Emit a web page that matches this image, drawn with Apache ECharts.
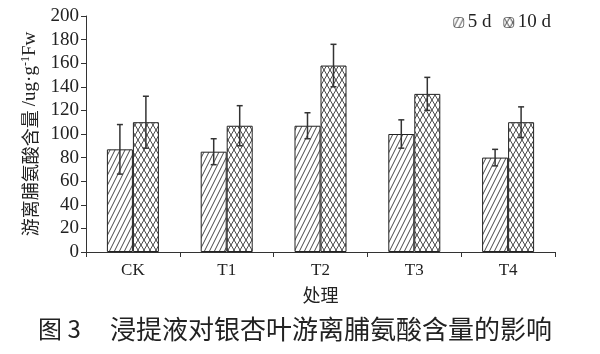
<!DOCTYPE html>
<html>
<head>
<meta charset="utf-8">
<script src="https://cdn.jsdelivr.net/npm/echarts@6/dist/echarts.min.js"></script>
<style>
html, body { margin: 0; padding: 0; background: #fff; }
#main { width: 600px; height: 354px; }
</style>
</head>
<body>
<div id="main"></div>
<script>
// 处理组与数据
var categories = ['CK', 'T1', 'T2', 'T3', 'T4'];
var seriesNames = ['5 d', '10 d'];
var val5d = [87, 85, 107, 100, 80];
var val10d = [110, 107, 158, 134, 110];
var err5d = [21, 11, 11, 12, 7];
var err10d = [22, 17, 18, 14, 13];

var serif = '"Liberation Serif", "Times New Roman", serif';
var cjk = '"Noto Sans CJK SC", sans-serif';
var barW = 26;

// 斜线填充
function hatchPattern() {
	var c = document.createElement('canvas');
	c.width = 5; c.height = 10;
	var ctx = c.getContext('2d');
	ctx.fillStyle = '#fff';
	ctx.fillRect(0, 0, 5, 10);
	ctx.strokeStyle = '#333';
	ctx.lineWidth = 0.9;
	for (var k = -1; k <= 1; k++) {
		ctx.beginPath();
		ctx.moveTo(k * 5, 10);
		ctx.lineTo(k * 5 + 5, 0);
		ctx.stroke();
	}
	return c;
}
// 网格填充
function crossPattern() {
	var c = document.createElement('canvas');
	c.width = 6; c.height = 10;
	var ctx = c.getContext('2d');
	ctx.fillStyle = '#fff';
	ctx.fillRect(0, 0, 6, 10);
	ctx.strokeStyle = '#333';
	ctx.lineWidth = 0.9;
	for (var k = -1; k <= 1; k++) {
		ctx.beginPath();
		ctx.moveTo(k * 6, 10);
		ctx.lineTo(k * 6 + 6, 0);
		ctx.stroke();
		ctx.beginPath();
		ctx.moveTo(k * 6, 0);
		ctx.lineTo(k * 6 + 6, 10);
		ctx.stroke();
	}
	return c;
}

function errData(vals, errs) {
	return vals.map(function (v, i) { return [i, v - errs[i], v + errs[i]]; });
}

function errRender(offset) {
	return function (params, api) {
		var lo = api.coord([api.value(0), api.value(1)]);
		var hi = api.coord([api.value(0), api.value(2)]);
		var x = lo[0] + offset;
		var cap = 3;
		var st = { stroke: '#333', lineWidth: 1.5 };
		return {
			type: 'group',
			children: [
				{ type: 'line', shape: { x1: x, y1: hi[1], x2: x, y2: lo[1] }, style: st },
				{ type: 'line', shape: { x1: x - cap, y1: hi[1], x2: x + cap, y2: hi[1] }, style: st },
				{ type: 'line', shape: { x1: x - cap, y1: lo[1], x2: x + cap, y2: lo[1] }, style: st }
			]
		};
	};
}

var chart = echarts.init(document.getElementById('main'));
var option = {
	animation: false,
	backgroundColor: '#fff',
	grid: { left: 86, right: 45, top: 16, bottom: 102 },
	legend: {
		data: seriesNames,
		right: 44,
		top: 8,
		itemWidth: 10,
		itemHeight: 10,
		itemGap: 12,
		itemStyle: { borderWidth: 0.6 },
		textStyle: { fontFamily: serif, fontSize: 19, color: '#222', padding: [0, 0, 0, -1] }
	},
	xAxis: {
		type: 'category',
		data: categories,
		name: '处理',
		nameLocation: 'middle',
		nameGap: 34,
		nameTextStyle: { fontFamily: cjk, fontSize: 18, color: '#222' },
		axisLine: { lineStyle: { color: '#333', width: 1 } },
		axisTick: { show: true, length: 5, lineStyle: { color: '#333' } },
		axisLabel: { fontFamily: serif, fontSize: 17, color: '#222', margin: 10 }
	},
	yAxis: {
		type: 'value',
		min: 0,
		max: 200,
		interval: 20,
		name: '{a|游离脯氨酸含量 }{b|/ug·g}{c|-1}{b|Fw}',
		nameLocation: 'middle',
		nameGap: 44,
		nameRotate: 90,
		nameTextStyle: {
			color: '#222',
			rich: {
				a: { fontFamily: cjk, fontSize: 18, color: '#222' },
				b: { fontFamily: serif, fontSize: 19, color: '#222' },
				c: { fontFamily: serif, fontSize: 12, color: '#222', padding: [0, 0, 8, 0] }
			}
		},
		splitLine: { show: false },
		axisLine: { show: true, lineStyle: { color: '#333', width: 1 } },
		axisTick: { show: true, length: 5, lineStyle: { color: '#333' } },
		axisLabel: { fontFamily: serif, fontSize: 19, color: '#222', margin: 7 }
	},
	series: [
		{
			name: seriesNames[0],
			type: 'bar',
			data: val5d,
			barWidth: barW,
			barGap: '0%',
			itemStyle: { color: { image: hatchPattern(), repeat: 'repeat' }, borderColor: '#222', borderWidth: 1 }
		},
		{
			name: seriesNames[1],
			type: 'bar',
			data: val10d,
			barWidth: barW,
			barGap: '0%',
			itemStyle: { color: { image: crossPattern(), repeat: 'repeat' }, borderColor: '#222', borderWidth: 1 }
		},
		{
			type: 'custom',
			name: 'err5',
			renderItem: errRender(-barW / 2),
			data: errData(val5d, err5d),
			encode: { x: 0, y: [1, 2] },
			z: 5
		},
		{
			type: 'custom',
			name: 'err10',
			renderItem: errRender(barW / 2),
			data: errData(val10d, err10d),
			encode: { x: 0, y: [1, 2] },
			z: 5
		}
	],
	graphic: [
		{
			type: 'text',
			x: 38,
			y: 329,
			style: { text: '图 3', font: '24px "Noto Sans CJK SC"', fill: '#222', verticalAlign: 'middle' }
		},
		{
			type: 'text',
			x: 110,
			y: 329,
			style: { text: '浸提液对银杏叶游离脯氨酸含量的影响', font: '26px "Noto Sans CJK SC"', fill: '#222', verticalAlign: 'middle' }
		}
	]
};
chart.setOption(option);
</script>
</body>
</html>
